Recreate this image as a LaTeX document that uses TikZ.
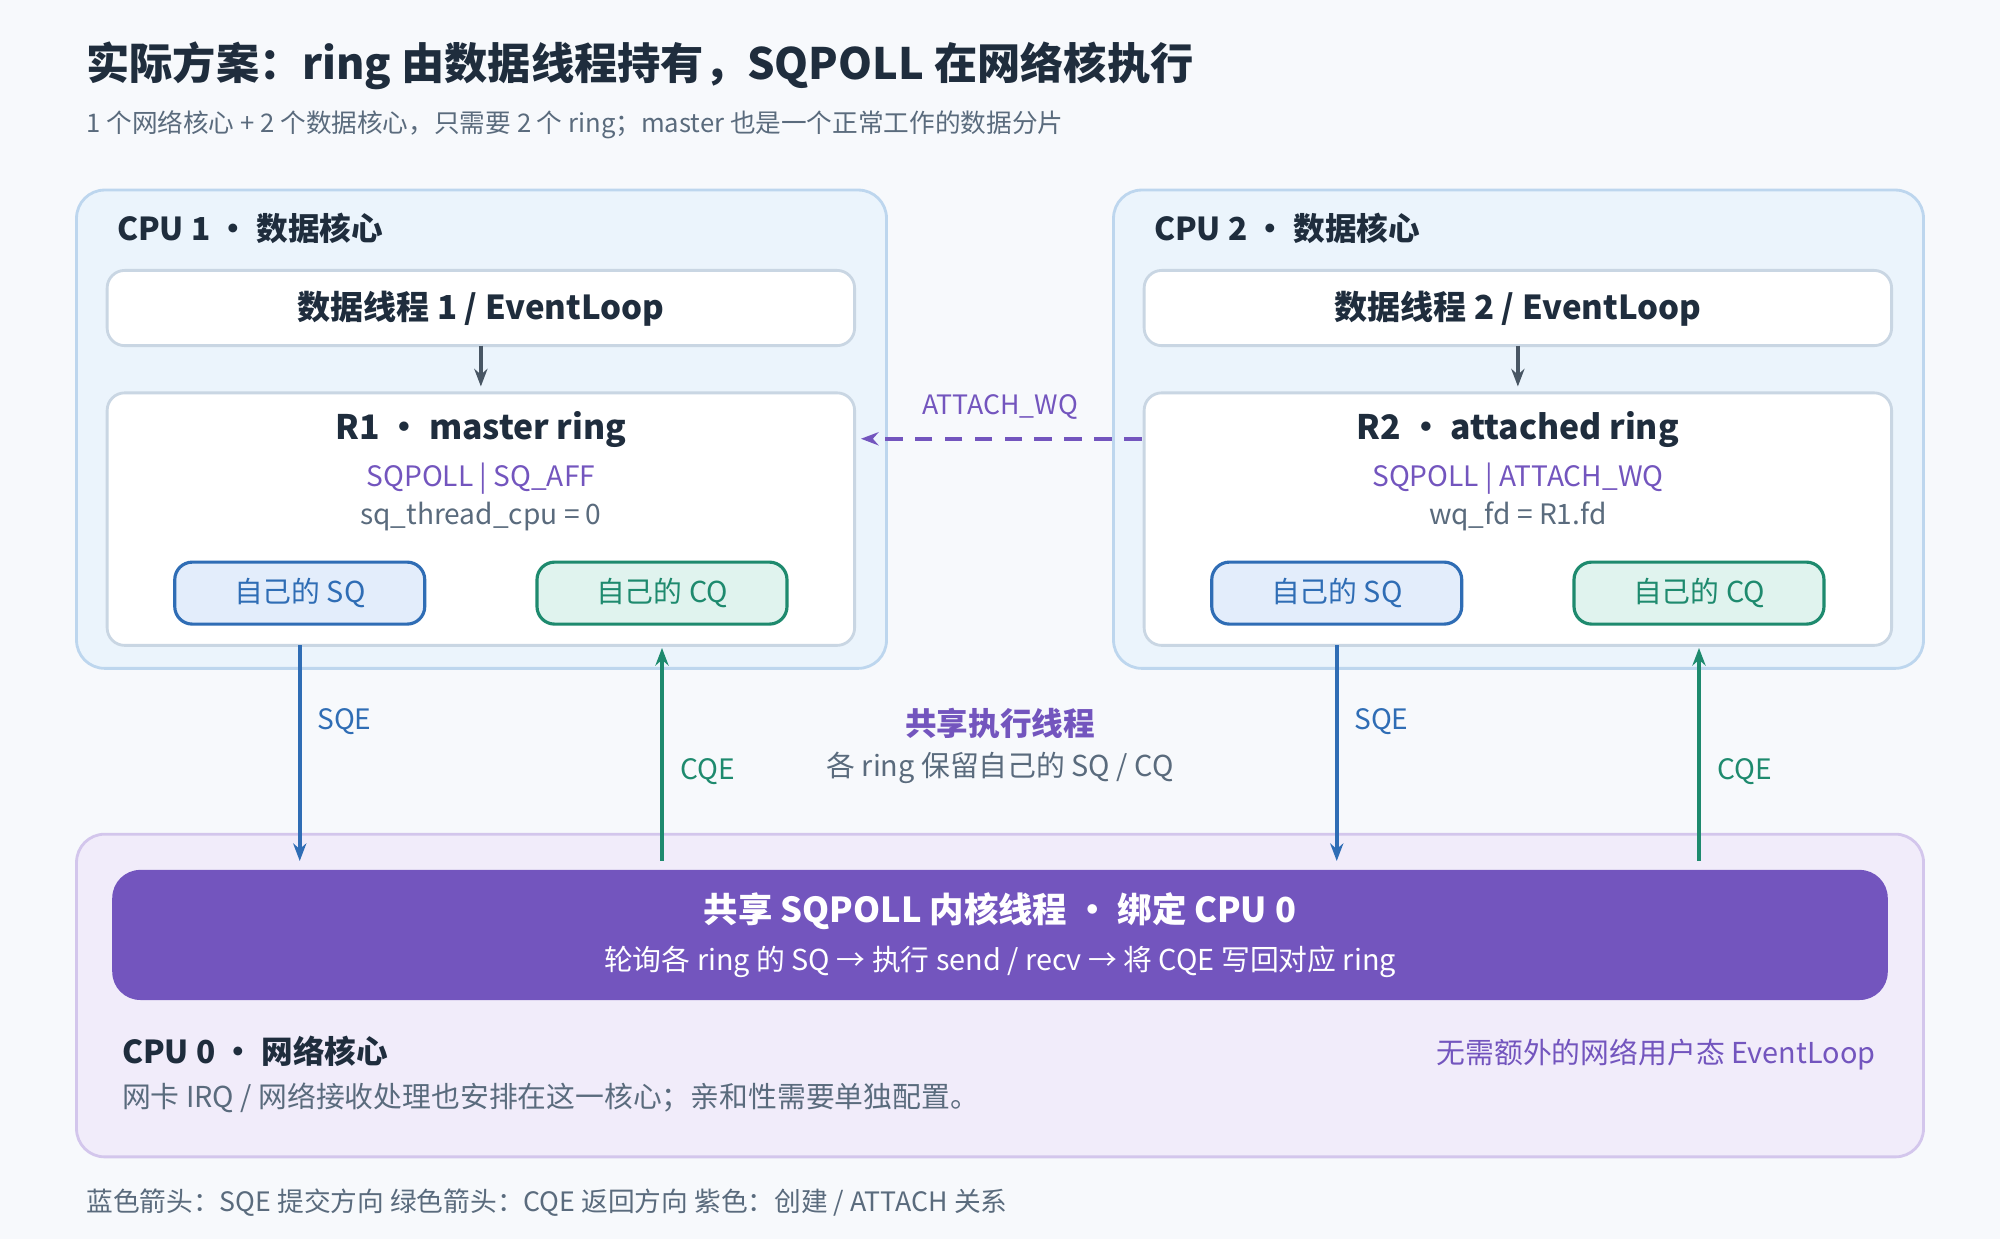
\documentclass[tikz,border=0pt]{standalone}
\usepackage{fontspec}
\setmainfont{Noto Sans CJK SC}
\usepackage{tikz}
\usetikzlibrary{arrows.meta,calc,positioning}
\definecolor{bgpage}{HTML}{F7F9FC}
\definecolor{inktitle}{HTML}{1F2D3D}
\definecolor{inkgray}{HTML}{5A6B7D}
\definecolor{cpufill}{HTML}{EBF4FC}
\definecolor{cpuline}{HTML}{BDD6EE}
\definecolor{boxline}{HTML}{C9D6E3}
\definecolor{sqblue}{HTML}{2F6DB5}
\definecolor{sqfill}{HTML}{E3EDFB}
\definecolor{cqgreen}{HTML}{1E8A6E}
\definecolor{cqfill}{HTML}{E0F3EE}
\definecolor{netpurple}{HTML}{7355BE}
\definecolor{netfill}{HTML}{F1ECFA}
\definecolor{netline}{HTML}{D3C6EC}
\newcommand{\fsz}[1]{\fontsize{#1}{#1}\selectfont}
\tikzset{
  cpu/.style={draw=cpuline, fill=cpufill, line width=0.8pt, rounded corners=8pt},
  wbox/.style={draw=boxline, fill=white, line width=0.8pt, rounded corners=5pt},
  qbox/.style={line width=0.9pt, rounded corners=5pt, minimum width=2.5cm, minimum height=0.62cm, font=\fsz{8.2pt}},
  sqb/.style={qbox, draw=sqblue, fill=sqfill, text=sqblue},
  cqb/.style={qbox, draw=cqgreen, fill=cqfill, text=cqgreen},
  flow/.style={-{Stealth[length=5pt]}, line width=1.1pt},
}
\begin{document}
\begin{tikzpicture}[x=0.012755cm, y=-0.012755cm]
  \fill[bgpage] (0,0) rectangle (1568,971);
  \useasboundingbox (0,0) rectangle (1568,971);
  % Title
  \node[anchor=west, font=\fsz{12.3pt}\bfseries, text=inktitle] (title) at (58,52) {实际方案：ring 由数据线程持有，SQPOLL 在网络核执行};
  \node[anchor=west, font=\fsz{7.3pt}, text=inkgray] (sub) at (58,98) {1 个网络核心 + 2 个数据核心，只需要 2 个 ring；master 也是一个正常工作的数据分片};
  % CPU 0
  \draw[draw=netline, fill=netfill, line width=0.8pt, rounded corners=8pt] (60,654) rectangle (1508,907);
  \fill[netpurple, rounded corners=8pt] (88,682) rectangle (1480,784);
  \node[font=\fsz{9.8pt}\bfseries, text=white] (bar) at (784,714) {共享 SQPOLL 内核线程 · 绑定 CPU 0};
  \node[font=\fsz{8.2pt}, text=white] (barsub) at (784,754) {轮询各 ring 的 SQ → 执行 send / recv → 将 CQE 写回对应 ring};
  \node[anchor=west, font=\fsz{9pt}\bfseries, text=inktitle] (cpu0) at (86,824) {CPU 0 · 网络核心};
  \node[anchor=west, font=\fsz{8.2pt}, text=inkgray] (cpu0sub) at (86,861) {网卡 IRQ / 网络接收处理也安排在这一核心；亲和性需要单独配置。};
  \node[anchor=east, font=\fsz{8.2pt}, text=netpurple] (noloop) at (1480,827) {无需额外的网络用户态 EventLoop};
  % CPU 1 and CPU 2
  \foreach \dx/\n/\rn/\rt/\fa/\fb in {0/1/R1/master ring/SQPOLL | SQ\_AFF/sq\_thread\_cpu = 0, 813/2/R2/attached ring/SQPOLL | ATTACH\_WQ/wq\_fd = R1.fd} {
    \draw[cpu] (60+\dx,149) rectangle (695+\dx,524);
    \node[anchor=west, font=\fsz{9pt}\bfseries, text=inktitle] at (82+\dx,179) {CPU \n\ · 数据核心};
    \draw[wbox] (84+\dx,212) rectangle (670+\dx,271);
    \node[font=\fsz{9.4pt}\bfseries, text=inktitle] (th\n) at (377+\dx,242) {数据线程 \n\ / EventLoop};
    \draw[wbox] (84+\dx,308) rectangle (670+\dx,506);
    \draw[-{Stealth[length=5pt]}, line width=1pt, inkgray!80!black] (377+\dx,271) -- (377+\dx,303);
    \node[font=\fsz{9.6pt}\bfseries, text=inktitle] at (377+\dx,337) {\rn\ · \rt};
    \node[font=\fsz{8pt}, text=netpurple] at (377+\dx,375) {\fa};
    \node[font=\fsz{8pt}, text=inkgray] at (377+\dx,405) {\fb};
    \node[sqb] (sq\n) at (235+\dx,465) {自己的 SQ};
    \node[cqb] (cq\n) at (519+\dx,465) {自己的 CQ};
    \coordinate (sqend\n) at (235+\dx,675);
    \coordinate (cqbeg\n) at (519+\dx,675);
    \draw[flow, sqblue] (235+\dx,506) -- (sqend\n);
    \draw[flow, cqgreen] (cqbeg\n) -- (519+\dx,508);
    \node[font=\fsz{8pt}, text=sqblue] at (270+\dx,566) {SQE};
    \node[font=\fsz{8pt}, text=cqgreen] at (555+\dx,605) {CQE};
  }
  % ATTACH
  \coordinate (attA) at (895,344);
  \coordinate (attB) at (675,344);
  \draw[-{Stealth[length=5pt]}, netpurple, line width=1.1pt, dash pattern=on 5pt off 3.5pt] (attA) -- (attB);
  \node[font=\fsz{7.6pt}, text=netpurple] (attlbl) at (784,319) {ATTACH\_WQ};
  % shared
  \node[font=\fsz{9pt}\bfseries, text=netpurple] (shared) at (784,567) {共享执行线程};
  \node[font=\fsz{8.2pt}, text=inkgray] (sharedsub) at (784,602) {各 ring 保留自己的 SQ / CQ};
  % legend
  \node[anchor=west, font=\fsz{7.6pt}, text=inkgray] (legend) at (58,943) {蓝色箭头：SQE 提交方向 绿色箭头：CQE 返回方向 紫色：创建 / ATTACH 关系};
\end{tikzpicture}
\end{document}
